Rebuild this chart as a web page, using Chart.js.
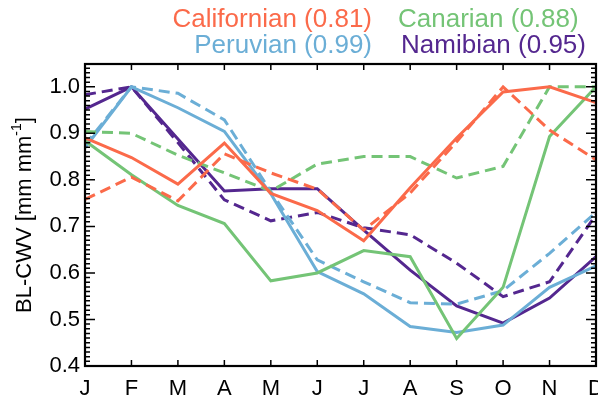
<!DOCTYPE html>
<html>
<head>
<meta charset="utf-8">
<script src="https://cdn.jsdelivr.net/npm/chart.js@4"></script>
<style>
  html, body { margin: 0; padding: 0; background: #fff; }
  #wrap { width: 598px; height: 400px; }
</style>
</head>
<body>
<div id="wrap"><canvas id="blChart" width="598" height="400"></canvas></div>
<script>
var months = ['J', 'F', 'M', 'A', 'M', 'J', 'J', 'A', 'S', 'O', 'N', 'D'];

// solid and dashed curve for each upwelling region
var californianSolid  = [0.890, 0.848, 0.791, 0.879, 0.771, 0.734, 0.669, 0.783, 0.890, 0.989, 1.000, 0.966];
var californianDashed = [0.758, 0.806, 0.755, 0.856, 0.815, 0.780, 0.692, 0.772, 0.882, 1.000, 0.907, 0.843];
var canarianSolid     = [0.884, 0.811, 0.745, 0.706, 0.583, 0.600, 0.648, 0.635, 0.459, 0.569, 0.893, 1.000];
var canarianDashed    = [0.904, 0.900, 0.853, 0.815, 0.776, 0.834, 0.850, 0.850, 0.804, 0.829, 1.000, 1.000];
var peruvianSolid     = [0.869, 1.000, 0.955, 0.904, 0.770, 0.603, 0.555, 0.485, 0.472, 0.488, 0.569, 0.615];
var peruvianDashed    = [0.875, 1.000, 0.986, 0.929, 0.775, 0.628, 0.581, 0.536, 0.533, 0.562, 0.642, 0.730];
var namibianSolid     = [0.952, 1.000, 0.888, 0.776, 0.781, 0.781, 0.692, 0.606, 0.529, 0.492, 0.546, 0.635];
var namibianDashed    = [0.983, 1.000, 0.880, 0.757, 0.712, 0.730, 0.697, 0.682, 0.621, 0.549, 0.581, 0.725];

var regionNames = ['Californian', 'Canarian', 'Peruvian', 'Namibian'];
var regionCorr  = ['0.81', '0.88', '0.99', '0.95'];
var regionColors = ['#FB6A4A', '#74C476', '#6BAED6', '#54278F'];

var yTicks = [0.4, 0.5, 0.6, 0.7, 0.8, 0.9, 1.0];

var FONT = '"Liberation Sans", Arial, Helvetica, sans-serif';

function line(label, data, color, dashed) {
  return {
    label: label,
    data: data,
    borderColor: color,
    backgroundColor: color,
    borderWidth: 3,
    borderDash: dashed ? [11, 6] : [],
    pointRadius: 0,
    tension: 0,
    fill: false
  };
}

// frame, inward ticks, legend text and y title
var framePlugin = {
  id: 'frame',
  afterDraw: function(chart) {
    var ctx = chart.ctx;
    var a = chart.chartArea;
    var xs = chart.scales.x;
    var ys = chart.scales.y;
    ctx.save();
    ctx.strokeStyle = '#000';
    ctx.lineWidth = 1.5;
    ctx.beginPath();
    for (var i = 0; i <= 65; i++) {
      var v = 0.4 + i * 0.01;
      var py = ys.getPixelForValue(v);
      if (py < a.top) break;
      var len = (i % 10 === 0) ? 10 : 5;
      ctx.moveTo(a.left, py); ctx.lineTo(a.left + len, py);
      ctx.moveTo(a.right, py); ctx.lineTo(a.right - len, py);
    }
    for (var k = 0; k < months.length; k++) {
      var px = xs.getPixelForValue(k);
      ctx.moveTo(px, a.bottom); ctx.lineTo(px, a.bottom - 6);
      ctx.moveTo(px, a.top); ctx.lineTo(px, a.top + 6);
    }
    ctx.stroke();
    ctx.lineWidth = 2.2;
    ctx.strokeRect(a.left, a.top, a.right - a.left, a.bottom - a.top);

    // legend
    ctx.font = '26px ' + FONT;
    ctx.textBaseline = 'alphabetic';
    var spots = [[372, 27, 'right'], [398, 27, 'left'], [372, 53, 'right'], [401, 53, 'left']];
    for (var j = 0; j < regionNames.length; j++) {
      ctx.fillStyle = regionColors[j];
      ctx.textAlign = spots[j][2];
      ctx.fillText(regionNames[j] + ' (' + regionCorr[j] + ')', spots[j][0], spots[j][1]);
    }

    // y title with superscript
    ctx.fillStyle = '#000';
    ctx.translate(25, (a.top + a.bottom) / 2);
    ctx.rotate(-Math.PI / 2);
    ctx.textAlign = 'left';
    ctx.textBaseline = 'middle';
    var main = 'BL-CWV [mm mm', sup = '-1', end = ']';
    ctx.font = '22px ' + FONT;
    var w1 = ctx.measureText(main).width, w3 = ctx.measureText(end).width;
    ctx.font = '14px ' + FONT;
    var w2 = ctx.measureText(sup).width;
    var x0 = -(w1 + w2 + w3) / 2;
    ctx.font = '22px ' + FONT;
    ctx.fillText(main, x0, 0);
    ctx.font = '14px ' + FONT;
    ctx.fillText(sup, x0 + w1, -8);
    ctx.font = '22px ' + FONT;
    ctx.fillText(end, x0 + w1 + w2, 0);
    ctx.restore();
  }
};

var ctx = document.getElementById('blChart');
var myChart = new Chart(ctx, {
  type: 'line',
  data: {
    labels: months,
    datasets: [
      line('Californian', californianSolid, regionColors[0], false),
      line('Californian dashed', californianDashed, regionColors[0], true),
      line('Canarian', canarianSolid, regionColors[1], false),
      line('Canarian dashed', canarianDashed, regionColors[1], true),
      line('Peruvian', peruvianSolid, regionColors[2], false),
      line('Peruvian dashed', peruvianDashed, regionColors[2], true),
      line('Namibian', namibianSolid, regionColors[3], false),
      line('Namibian dashed', namibianDashed, regionColors[3], true)
    ]
  },
  options: {
    responsive: false,
    animation: false,
    devicePixelRatio: 1,
    layout: { padding: { top: 64, right: 2, left: 0, bottom: 0 }, autoPadding: false },
    plugins: { legend: { display: false }, tooltip: { enabled: false } },
    scales: {
      x: {
        type: 'category',
        offset: false,
        grid: { display: false, drawTicks: false, tickLength: 0 },
        border: { display: false },
        ticks: { color: '#000', font: { family: FONT, size: 22 }, padding: 10, maxRotation: 0, autoSkip: false },
        afterFit: function(s) {
          s.height = 34;
          s.paddingLeft = 0;
          s.paddingRight = 0;
        }
      },
      y: {
        min: 0.4,
        max: 1.049,
        grid: { display: false, drawTicks: false, tickLength: 0 },
        border: { display: false },
        afterBuildTicks: function(s) { s.ticks = yTicks.map(function(v) { return { value: v }; }); },
        ticks: {
          color: '#000',
          font: { family: FONT, size: 22 },
          padding: 5,
          callback: function(v) { return Number(v).toFixed(1); }
        },
        afterFit: function(s) {
          s.width = 85;
          s.paddingTop = 0;
          s.paddingBottom = 0;
        }
      }
    }
  },
  plugins: [framePlugin]
});
</script>
</body>
</html>
